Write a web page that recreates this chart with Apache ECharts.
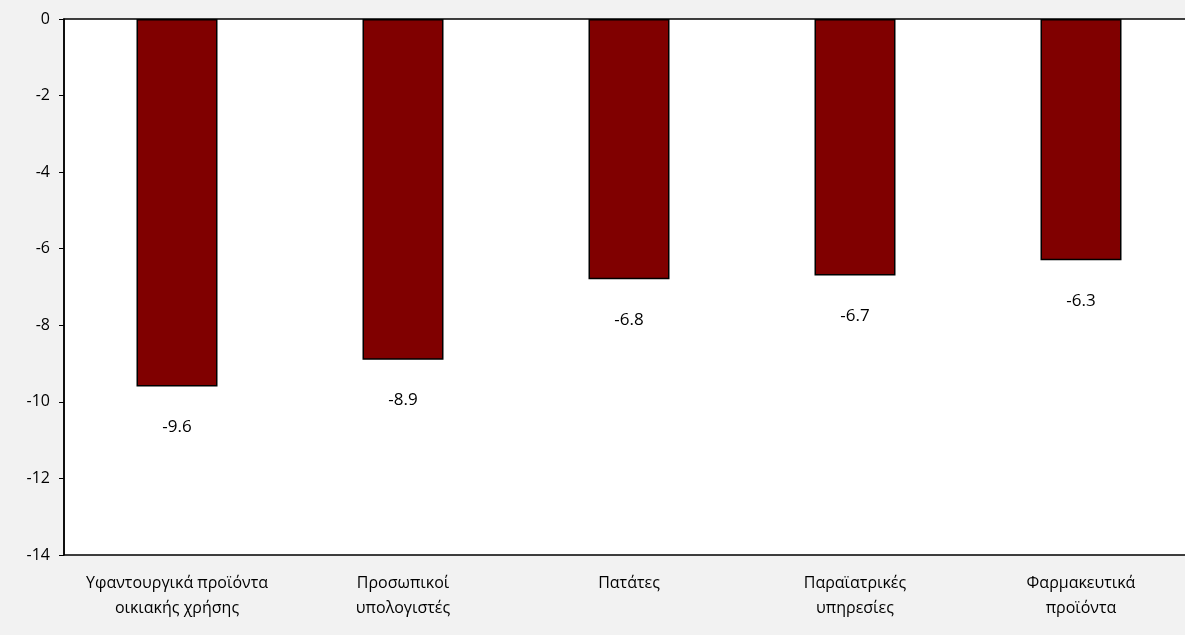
<!DOCTYPE html><html><head><meta charset="utf-8"><script src="https://cdn.jsdelivr.net/npm/echarts@6/dist/echarts.min.js"></script></head><body style="margin:0;background:#f2f2f2;overflow:hidden"><div id="c" style="width:1210px;height:635px"></div><script>
const categories=['Υφαντουργικά προϊόντα\nοικιακής χρήσης','Προσωπικοί\nυπολογιστές','Πατάτες','Παραϊατρικές\nυπηρεσίες','Φαρμακευτικά\nπροϊόντα'];
const values=[-9.6,-8.9,-6.8,-6.7,-6.3];
const c=echarts.init(document.getElementById('c'));
const font='"Open Sans", sans-serif';
c.setOption({backgroundColor:'#f2f2f2',animation:false,
grid:{left:64,top:19,width:1130,height:536,show:true,backgroundColor:'#fff',borderColor:'#000',borderWidth:1.5},
xAxis:{type:'category',data:categories,position:'bottom',axisLine:{show:false},axisTick:{show:false},axisLabel:{color:'#000',fontSize:16,fontFamily:font,margin:16,lineHeight:25,interval:0}},
yAxis:{type:'value',min:-14,max:0,interval:2,axisLine:{show:true,lineStyle:{color:'#000',width:1.5}},axisTick:{show:true,inside:false,length:5,lineStyle:{color:'#000'}},splitLine:{show:false},axisLabel:{color:'#000',fontSize:16,fontFamily:font,margin:14}},
series:[{type:'bar',data:values,barWidth:81,itemStyle:{color:'#800000',borderColor:'#000',borderWidth:1.5},label:{show:true,position:'bottom',distance:32,color:'#000',fontSize:17,fontFamily:font}}]});
</script></body></html>
